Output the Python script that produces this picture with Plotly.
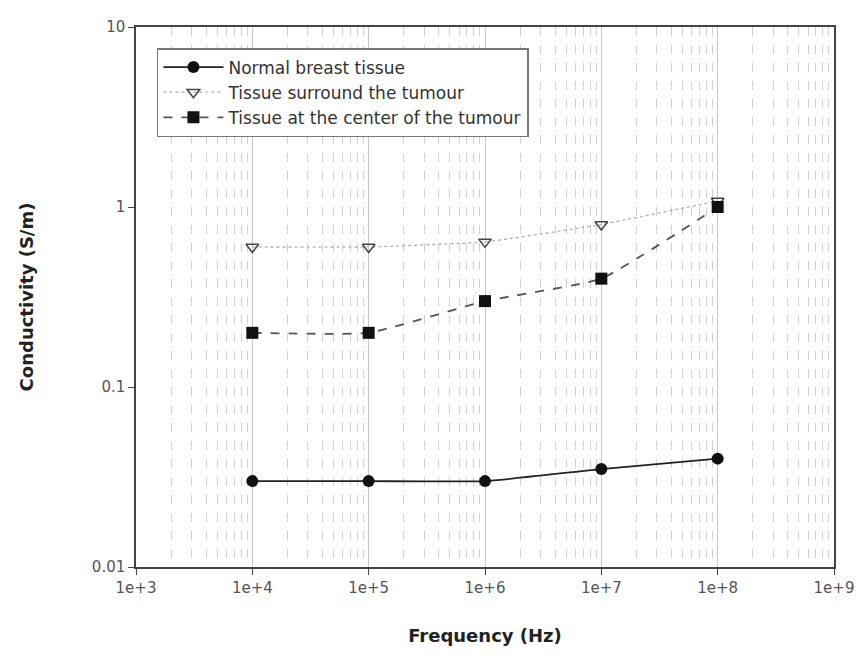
import plotly.graph_objects as go

freq = [1e4, 1e5, 1e6, 1e7, 1e8]
normal = [0.030, 0.030, 0.030, 0.035, 0.040]
surround = [0.60, 0.60, 0.64, 0.80, 1.08]
center = [0.20, 0.20, 0.30, 0.40, 1.00]

x_ticks = [1e3, 1e4, 1e5, 1e6, 1e7, 1e8, 1e9]
x_labels = ["1e+3", "1e+4", "1e+5", "1e+6", "1e+7", "1e+8", "1e+9"]
y_ticks = [0.01, 0.1, 1, 10]
y_labels = ["0.01", "0.1", "1", "10"]
minor_x = [k * 10 ** e for e in range(3, 9) for k in range(2, 10)]

FONT = "DejaVu Sans, Liberation Sans, Arial, sans-serif"

fig = go.Figure()
fig.add_trace(go.Scatter(
    x=freq, y=normal, name="Normal breast tissue", mode="lines+markers",
    line=dict(color="#222222", width=1.8, shape="spline", smoothing=0.4),
    marker=dict(symbol="circle", size=12, color="#111111")))
fig.add_trace(go.Scatter(
    x=freq, y=surround, name="Tissue surround the tumour", mode="lines+markers",
    line=dict(color="#b0b0b0", width=1.3, dash="dot", shape="spline", smoothing=0.4),
    marker=dict(symbol="triangle-down-open", size=11, color="#444444", line=dict(width=1.5))))
fig.add_trace(go.Scatter(
    x=freq, y=center, name="Tissue at the center of the tumour", mode="lines+markers",
    line=dict(color="#555555", width=1.8, dash="dash", shape="spline", smoothing=0.4),
    marker=dict(symbol="square", size=12, color="#111111")))

fig.update_layout(
    width=859, height=655,
    margin=dict(l=136, r=25, t=27, b=88),
    paper_bgcolor="white", plot_bgcolor="white",
    font=dict(family=FONT, color="#333333"),
    showlegend=True,
    legend=dict(x=0.03, y=0.961, xanchor="left", yanchor="top",
                bgcolor="white", bordercolor="#777777", borderwidth=1.5,
                font=dict(size=17, family=FONT, color="#333333"), itemwidth=60,
                tracegroupgap=0),
)
fig.update_xaxes(
    type="log", range=[3, 9], tickvals=x_ticks, ticktext=x_labels,
    tickfont=dict(size=15, color="#555555"),
    ticks="outside", ticklen=6, tickcolor="#444444",
    showline=True, linecolor="#444444", linewidth=1.5, mirror=True,
    showgrid=True, gridcolor="#c8c8c8", gridwidth=1,
    minor=dict(tickvals=minor_x, showgrid=True, griddash="dash",
               gridcolor="#d0d0d0", gridwidth=1, ticks=""),
    title=dict(text="<b>Frequency (Hz)</b>", font=dict(size=18, color="#222222"), standoff=34),
    zeroline=False, automargin=False,
)
fig.update_yaxes(
    type="log", range=[-2, 1], tickvals=y_ticks, ticktext=y_labels,
    tickfont=dict(size=15, color="#555555"),
    ticks="outside", ticklen=6, tickcolor="#444444",
    showline=True, linecolor="#444444", linewidth=1.5, mirror=True,
    showgrid=False,
    title=dict(text="<b>Conductivity (S/m)</b>", font=dict(size=18, color="#222222"), standoff=54),
    zeroline=False, automargin=False,
)

fig.write_html("out.html")
